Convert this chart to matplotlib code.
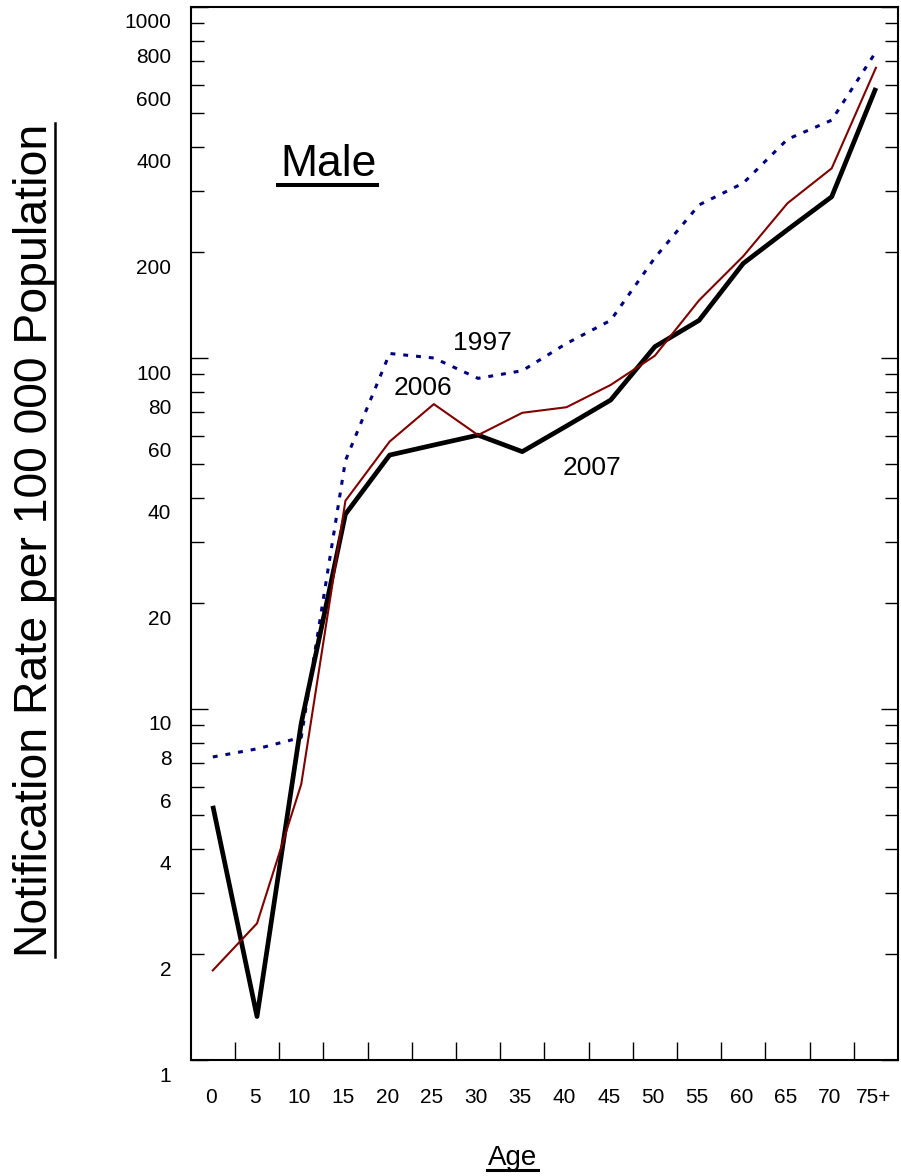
import matplotlib
matplotlib.use("Agg")
import matplotlib.pyplot as plt
from matplotlib.ticker import FixedLocator, NullFormatter
from matplotlib.transforms import ScaledTranslation
from matplotlib.lines import Line2D

plt.rcParams['font.family'] = ['Liberation Sans', 'DejaVu Sans']

# Age groups and notification rates per 100 000 males
ages = ['0', '5', '10', '15', '20', '25', '30', '35', '40', '45',
        '50', '55', '60', '65', '70', '75+']
rate_1997 = [7.3, 7.7, 8.3, 51, 103, 100, 87.5, 92, 110, 128,
             193, 273, 315, 420, 476, 745]
rate_2006 = [1.8, 2.45, 6.1, 39.2, 57.8, 73.9, 60.3, 69.8, 72.4, 83.8,
             101.5, 146, 195, 276, 347, 671]
rate_2007 = [5.3, 1.33, 9.1, 35.9, 52.9, 56.5, 60.3, 54.1, 64, 75.9,
             107.7, 128, 186, 232, 288, 588]

ytick_vals = [1, 2, 4, 6, 8, 10, 20, 40, 60, 80, 100, 200, 400, 600, 800, 1000]
ytick_minor = [3, 5, 7, 9, 30, 50, 70, 90, 300, 500, 700, 900]

W, H = 901, 1176
fig = plt.figure(figsize=(W / 100, H / 100), dpi=100)
ax = fig.add_axes([190.7 / W, 1 - 1060 / H, (898 - 190.7) / W, (1060 - 7) / H])

xs = list(range(len(ages)))
ax.plot(xs, rate_1997, color='#000080', lw=2.2, linestyle=(0, (1.6, 2.6)),
        zorder=2)
ax.plot(xs, rate_2007, color='black', lw=3.4, solid_joinstyle='round',
        solid_capstyle='butt', zorder=3)
ax.plot(xs, rate_2006, color='#800000', lw=1.5, zorder=4)

ax.set_yscale('log')
ax.set_ylim(1, 1000)
ax.set_xlim(-0.5, len(ages) - 0.5)

# y axis ticks on both sides, pointing inwards
ax.yaxis.set_major_locator(FixedLocator(ytick_vals))
ax.yaxis.set_minor_locator(FixedLocator(ytick_minor))
ax.yaxis.set_minor_formatter(NullFormatter())
ax.set_yticklabels([str(v) for v in ytick_vals])
ax.tick_params(axis='y', which='both', direction='in', left=True, right=True,
               length=9.4, width=1.0, color='black', labelsize=15, pad=14)
for tick in ax.yaxis.get_major_ticks():
    v = tick.get_loc()
    if v in (1, 10, 100, 1000):
        tick.tick1line.set_markersize(12.5)
        tick.tick2line.set_markersize(12.5)
shift = ScaledTranslation(0, -14 / 100, fig.dpi_scale_trans)
for lab in ax.get_yticklabels():
    lab.set_transform(lab.get_transform() + shift)

# x axis: labels at the age groups, tick marks between them
ax.set_xticks(xs)
ax.set_xticklabels(ages)
ax.xaxis.set_minor_locator(FixedLocator([i + 0.5 for i in range(len(ages) - 1)]))
ax.tick_params(axis='x', which='major', length=0, labelsize=15, pad=20)
ax.tick_params(axis='x', which='minor', direction='in', length=13, width=1.0,
               bottom=True, top=False)
xshift = ScaledTranslation(-2 / 100, 0, fig.dpi_scale_trans)
for lab in ax.get_xticklabels():
    lab.set_transform(lab.get_transform() + xshift)

for side in ('left', 'right', 'bottom', 'top'):
    ax.spines[side].set_linewidth(1.5)

# series labels
ax.text(6.11, 110, '1997', fontsize=19, ha='center', va='center')
ax.text(4.75, 82, '2006', fontsize=19, ha='center', va='center')
ax.text(8.57, 48.6, '2007', fontsize=19, ha='center', va='center')

# titles with underlines
t_male = fig.text(280 / W, 1 - 175.7 / H, 'Male', fontsize=32,
                  ha='left', va='baseline')
t_age = fig.text(512.5 / W, 1 - 1165 / H, 'Age', fontsize=20,
                 ha='center', va='baseline')
t_ylab = fig.text(46.7 / W, 1 - 540 / H, 'Notification Rate per 100 000 Population',
                  fontsize=33.4, rotation=90, rotation_mode='anchor',
                  ha='center', va='baseline')

fig.canvas.draw()
r = fig.canvas.get_renderer()

bb = t_male.get_window_extent(r)
yu = (H - 185) / H
fig.add_artist(Line2D([(bb.x0 - 2) / W, (bb.x1 + 1) / W], [yu, yu],
                      transform=fig.transFigure, color='black', lw=2.9))
bb = t_age.get_window_extent(r)
yu = (H - 1169.5) / H
fig.add_artist(Line2D([(bb.x0 - 1) / W, (bb.x1 + 1) / W], [yu, yu],
                      transform=fig.transFigure, color='black', lw=2.2))
bb = t_ylab.get_window_extent(r)
xu = 55 / W
fig.add_artist(Line2D([xu, xu], [bb.y0 / H, bb.y1 / H],
                      transform=fig.transFigure, color='black', lw=1.8))

fig.savefig('out.png', dpi=100)
